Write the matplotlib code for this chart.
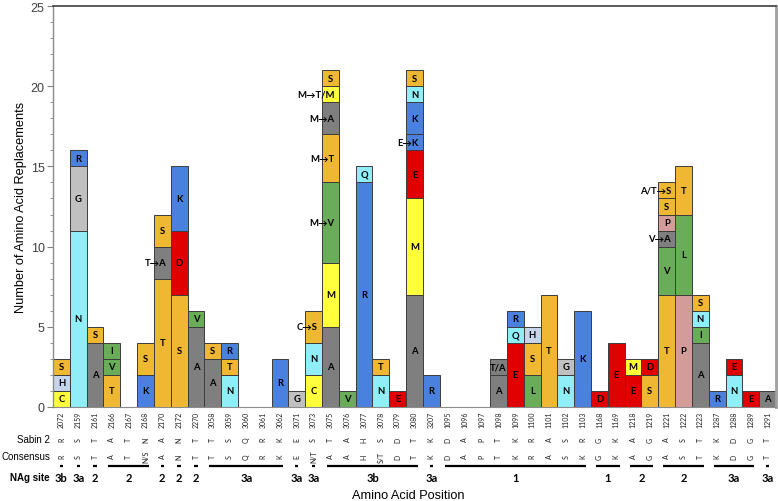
import numpy as np
import matplotlib.pyplot as plt
from matplotlib.transforms import blended_transform_factory

plt.rcParams['font.family'] = ['Liberation Sans', 'DejaVu Sans']

positions = ["2072", "2159", "2161", "2166", "2167", "2168", "2170", "2172", "2270",
             "3058", "3059", "3060", "3061", "3062", "3071", "3073", "3075", "3076",
             "3077", "3078", "3079", "3080", "3207", "1095", "1096", "1097", "1098",
             "1099", "1100", "1101", "1102", "1103", "1168", "1169", "1218", "1219",
             "1221", "1222", "1223", "1287", "1288", "1289", "1291"]

sabin2 = ["R", "S", "T", "A", "T", "N", "A", "N", "T", "T", "S", "Q", "R", "K", "E",
          "S", "T", "A", "H", "S", "D", "T", "K", "D", "A", "P", "T", "K", "R", "A",
          "S", "R", "G", "K", "A", "G", "A", "S", "T", "K", "D", "G", "T"]

consensus = ["R", "S", "T", "A", "T", "N/S", "A", "N", "T", "T", "S", "Q", "R", "K", "E",
             "N/T", "A", "A", "H", "S/T", "D", "T", "K", "D", "A", "P", "T", "K", "R", "A",
             "S", "K", "G", "K", "A", "G", "A", "S", "T", "K", "D", "G", "T"]

# stacked segments, bottom to top
seg_labels = [
    ["C", "H", "S"], ["N", "G", "R"], ["A", "S"], ["T", "V", "I"], [], ["K", "S"],
    ["T", "T→A", "S"], ["S", "D", "K"], ["A", "V"], ["A", "S"], ["N", "T", "R"],
    [], [], ["R"], ["G"], ["C", "N", "C→S"],
    ["A", "M", "M→V", "M→T", "M→A", "M→T/M", "S"], ["V"], ["R", "Q"], ["N", "T"], ["E"],
    ["A", "M", "E", "E→K", "K", "N", "S"], ["R"], [], [], [], ["A", "T/A"],
    ["E", "Q", "R"], ["L", "S", "H"], ["T"], ["N", "G"], ["K"], ["D"], ["E"],
    ["E", "M"], ["S", "D"], ["T", "V", "V→A", "P", "S", "A/T→S"], ["P", "L", "T"],
    ["A", "I", "N", "S"], ["R"], ["N", "E"], ["E"], ["A"],
]
seg_counts = [
    [1, 1, 1], [11, 4, 1], [4, 1], [2, 1, 1], [], [2, 2],
    [8, 2, 2], [7, 4, 4], [5, 1], [3, 1], [2, 1, 1],
    [], [], [3], [1], [2, 2, 2],
    [5, 4, 5, 3, 2, 1, 1], [1], [14, 1], [2, 1], [1],
    [7, 6, 3, 1, 2, 1, 1], [2], [], [], [], [2, 1],
    [4, 1, 1], [2, 2, 1], [7], [2, 1], [6], [1], [4],
    [2, 1], [2, 1], [7, 3, 1, 1, 1, 1], [7, 5, 3],
    [4, 1, 1, 1], [1], [2, 1], [1], [1],
]

nag_sites = ["3b", "3a", "2", "2", "2", "2", "2", "3a", "3a", "3a", "3b", "3a",
             "1", "1", "2", "2", "3a", "3a"]
nag_first = ["2072", "2159", "2161", "2166", "2170", "2172", "2270", "3058", "3071",
             "3073", "3075", "3207", "1095", "1168", "1218", "1221", "1287", "1291"]
nag_last = ["2072", "2159", "2161", "2168", "2170", "2172", "2270", "3062", "3071",
            "3073", "3080", "3207", "1103", "1169", "1219", "1223", "1289", "1291"]

res_colors = {
    "S": "#F0B733", "T": "#F0B733", "C": "#FFFF3C", "M": "#FFFF3C",
    "H": "#C7D5EC", "N": "#90EEF8", "Q": "#90EEF8", "G": "#C0C0C0",
    "R": "#4A80DE", "K": "#4A80DE", "A": "#7F7F7F", "V": "#6AAD59",
    "I": "#6AAD59", "L": "#6AAD59", "D": "#E00000", "E": "#E00000",
    "P": "#D49C99",
}

W, H = 778, 502
fig = plt.figure(figsize=(W / 100, H / 100), dpi=100)
ax = fig.add_axes([53 / W, 1 - 408 / H, (776 - 53) / W, 401 / H])

bar_font = ['Lato', 'DejaVu Sans']
x = np.arange(len(positions))
for i in x:
    bottom = 0
    for lab, cnt in zip(seg_labels[i], seg_counts[i]):
        ax.bar(i, cnt, width=1.0, bottom=bottom, color=res_colors[lab[-1]],
               edgecolor="#3c3c3c", linewidth=0.7, zorder=2)
        mid = bottom + cnt / 2
        if "→" in lab:
            ax.annotate(lab, (i, mid), xytext=(3, 0), textcoords="offset points",
                        ha="right", va="center", fontsize=6.8, fontweight="bold",
                        family=bar_font, zorder=3, annotation_clip=False)
        else:
            ax.text(i, mid, lab, ha="center", va="center", fontsize=6.8,
                    fontweight="bold", family=bar_font, zorder=3)
        bottom += cnt

ax.set_xlim(-0.5, len(positions) - 0.5)
ax.set_ylim(0, 25)
ax.set_xticks([])
ax.set_yticks(np.arange(0, 26, 5))
ax.set_yticks(np.arange(0, 26, 1), minor=True)
ax.tick_params(axis="y", which="major", direction="out", length=4, width=0.8,
               color="#808080", labelsize=9, labelcolor="#404040", pad=2)
ax.tick_params(axis="y", which="minor", direction="out", length=2.5, width=0.6,
               color="#808080")
ax.spines["left"].set_color("#8c8c8c")
ax.spines["left"].set_linewidth(1.0)
ax.spines["top"].set_color("#404040")
ax.spines["top"].set_linewidth(1.2)
ax.spines["right"].set_color("#a0a0a0")
ax.spines["right"].set_linewidth(2.0)
ax.spines["bottom"].set_color("#8c8c8c")
ax.spines["bottom"].set_linewidth(0.8)

# table below the axis
tr = blended_transform_factory(ax.transData, ax.transAxes)
def fy(py):
    return (408 - py) / 401

for i in x:
    ax.text(i, fy(412), positions[i], transform=tr, rotation=90, ha="center",
            va="top", fontsize=5, family=bar_font, color="#202020")
    ax.text(i, fy(440), sabin2[i], transform=tr, rotation=90, ha="center",
            va="center", fontsize=5, family=bar_font, color="#202020")
    ax.text(i, fy(457), consensus[i], transform=tr, rotation=90, ha="center",
            va="center", fontsize=5, family=bar_font, color="#202020")

for site, a, b in zip(nag_sites, nag_first, nag_last):
    i0 = positions.index(a)
    i1 = positions.index(b)
    if i0 == i1:
        x0, x1 = i0 - 0.1, i0 + 0.1
    else:
        x0, x1 = i0 - 0.2, i1 + 0.2
    ax.plot([x0, x1], [fy(467), fy(467)], transform=tr, color="black", lw=1.6,
            clip_on=False, solid_capstyle="butt")
    ax.text((i0 + i1) / 2, fy(478), site, transform=tr, ha="center", va="center",
            fontsize=8, fontweight="bold", family=bar_font)

fig.text(50 / W, 1 - 440 / H, "Sabin 2", ha="right", va="center", fontsize=7)
fig.text(50 / W, 1 - 457 / H, "Consensus", ha="right", va="center", fontsize=7)
fig.text(50 / W, 1 - 478 / H, "NAg site", ha="right", va="center", fontsize=7,
         fontweight="bold")

fig.text(21 / W, 1 - 207 / H, "Number of Amino Acid Replacements", rotation=90,
         ha="center", va="center", fontsize=9.2)
fig.text(408 / W, 1 - 496 / H, "Amino Acid Position", ha="center", va="center",
         fontsize=9.2)

fig.savefig("out.png", dpi=100)
